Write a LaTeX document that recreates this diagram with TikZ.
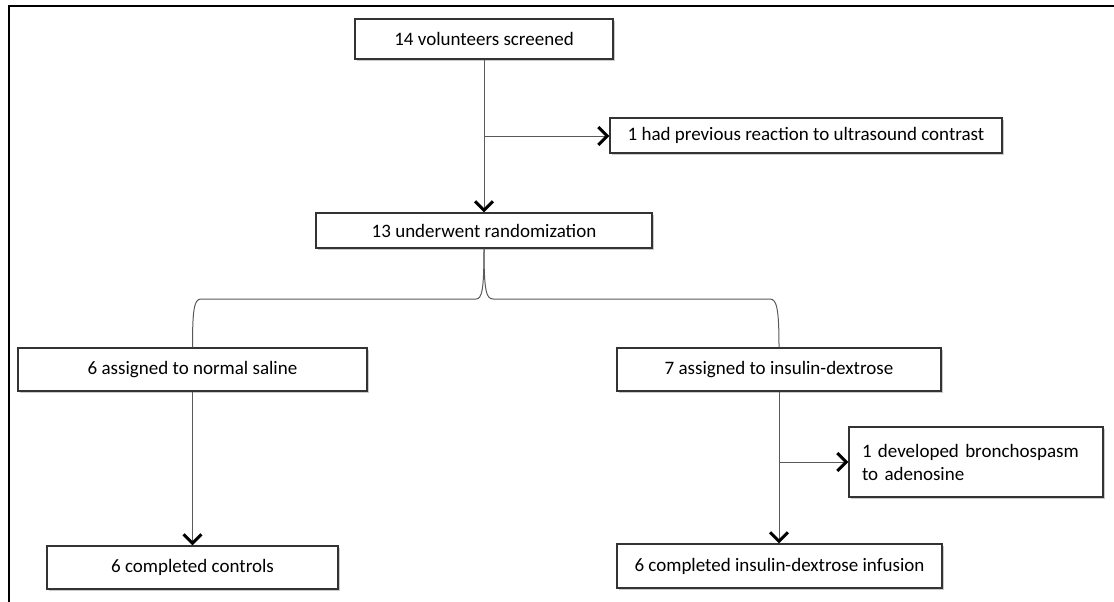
\documentclass[tikz,border=0pt]{standalone}
\usepackage{fontspec}
\setmainfont{Carlito}
\usetikzlibrary{arrows.meta,shadows}
\begin{document}
\begin{tikzpicture}[x=1pt,y=-1pt,
  box/.style={draw=black!80,line width=1.2pt,fill=white,inner sep=0pt,
    font=\fontsize{19}{23}\selectfont,
    drop shadow={shadow xshift=1.5pt,shadow yshift=-1.8pt,opacity=0.35,fill=black!60}},
  link/.style={draw=black!65,line width=1pt},
  arr/.style={link,-{Straight Barb[length=9pt,width=18pt,line width=3pt,color=black]}}]
\useasboundingbox (0,0) rectangle (1114,602);
\draw[line width=2pt] (9,602) -- (9,6) -- (1114,6);
% nodes
\node[box,minimum width=258pt,minimum height=40pt] (screen) at (484,39) {14 volunteers screened};
\node[box,minimum width=392pt,minimum height=35pt] (excl) at (806,135.5) {1 had previous reaction to ultrasound contrast};
\node[box,minimum width=336pt,minimum height=35pt] (rand) at (484,230.5) {13 underwent randomization};
\node[box,minimum width=349pt,minimum height=43pt] (saline) at (192.5,369.5) {6 assigned to normal saline};
\node[box,minimum width=324pt,minimum height=43pt] (insulin) at (779,369.5) {7 assigned to insulin-dextrose};
\node[box,minimum width=291pt,minimum height=43pt] (controls) at (192.5,567.5) {6 completed controls};
\node[box,minimum width=325pt,minimum height=44pt] (infusion) at (779.5,566) {6 completed insulin-dextrose infusion};
\node[box,minimum width=254pt,minimum height=70pt,align=left,text width=228pt] (bronch) at (976,462) {1 developed bronchospasm\\to adenosine};
% connectors
\coordinate (j1) at (484,136);
\coordinate (j2) at (780,462);
\draw[arr] (screen.south) -- (rand.north);
\draw[arr] (j1) -- (j1 -| excl.west);
\draw[link] (rand.south) .. controls ++(0,41) and (482,299) .. (476,299) -- (201,299)
  .. controls (194,299) and (192.5,310) .. (saline.north);
\draw[link] (rand.south) .. controls ++(0,41) and (486,299) .. (493,299) -- (770,299)
  .. controls (777,299) and (779,310) .. (insulin.north);
\draw[arr] (saline.south) -- (saline.south |- controls.north);
\draw[arr] (insulin.south) -- (insulin.south |- infusion.north);
\draw[arr] (j2) -- (j2 -| bronch.west);
\end{tikzpicture}
\end{document}
